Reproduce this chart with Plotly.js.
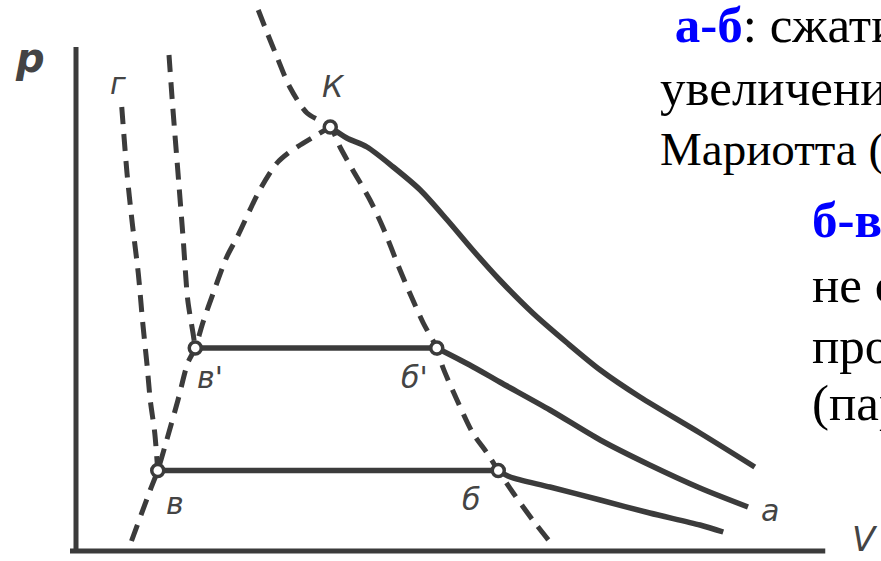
<!DOCTYPE html>
<html>
<head>
<meta charset="utf-8">
<script src="https://cdn.plot.ly/plotly-3.0.1.min.js"></script>
<style>
  html, body { margin: 0; padding: 0; background: #ffffff; }
  #chart { width: 881px; height: 561px; }
  /* the printed diagram is a soft scan */
  #chart .scatterlayer { filter: blur(0.6px); }
</style>
</head>
<body>
<div id="chart"></div>
<script>
// Real-gas isotherms in p–V coordinates (arbitrary units)

// critical isotherm, starting at the critical point К
const critV = [33.9, 36.1, 38.8, 42.3, 45.9, 49.5, 52.9, 56.5, 60.9, 65.5, 69.9, 75.2, 83.2, 90.5];
const critP = [84.8, 82.6, 80.8, 76.8, 72.2, 66.2, 60.2, 54.2, 47.6, 41.6, 36.2, 30.8, 23.6, 16.8];

// upper subcritical isotherm, gas branch from б'
const midV = [48.1, 52.5, 56.5, 63.2, 69.9, 76.5, 83.2, 89.6];
const midP = [40.6, 37.2, 33.8, 28.2, 22.2, 17.2, 12.6, 8.8];

// lower isotherm а–б, gas branch from б
const lowV = [56.3, 57.9, 63.2, 69.9, 76.5, 83.2, 86.3];
const lowP = [16.1, 14.8, 12.8, 10.2, 7.6, 5.2, 3.8];

// liquid boundary of the two-phase dome, up to К
const domeLeftV = [7.4, 9.9, 10.9, 12.1, 13.6, 14.9, 15.9, 16.9, 18.3, 20.1, 21.5, 24.5, 26.8, 28.3, 29.9, 32.1, 33.9];
const domeLeftP = [2.0, 12.2, 16.1, 22.2, 30.2, 37.6, 40.6, 45.6, 51.6, 58.8, 62.8, 72.2, 77.6, 79.6, 81.2, 83.2, 84.8];

// vapour boundary passing through К
const domeRightV = [24.3, 25.5, 26.8, 28.5, 30.8, 33.9, 35.2, 36.9, 39.2, 40.9, 43.2, 44.5, 46.3, 48.1, 48.9, 50.8, 52.9, 54.8, 56.3, 58.3, 60.9, 63.2];
const domeRightP = [108.2, 103.6, 98.8, 92.8, 87.6, 84.8, 80.8, 76.2, 70.2, 64.8, 56.2, 51.6, 45.6, 40.6, 36.8, 30.2, 23.6, 19.6, 16.1, 11.6, 6.2, 1.8];

// steep liquid branches: г–в and the one ending at в'
const liqLowV = [6.1, 6.8, 7.5, 8.3, 8.9, 9.5, 9.9, 10.5, 10.9];
const liqLowP = [88.8, 75.6, 65.6, 55.6, 45.6, 36.8, 30.2, 23.6, 16.1];
const liqMidV = [12.4, 12.9, 13.6, 14.3, 14.9, 15.6, 15.9];
const liqMidP = [99.2, 88.8, 75.6, 62.2, 50.2, 43.6, 40.6];

// marked states
const pointNames = ["К", "в'", "б'", "в", "б"];
const pointV = [33.9, 15.9, 48.1, 10.9, 56.3];
const pointP = [84.8, 40.6, 40.6, 16.1, 16.1];

// curve letters
const curveLabels = ["г", "а"];
const curveLabelV = [5.6, 92.5];
const curveLabelP = [93.6, 8.2];

// axis names
const axisNames = ["р", "V"];

const ink = "#3b3b3b";
const dashed = { color: ink, width: 5, dash: "17px,10px", shape: "spline", smoothing: 0.8 };
const solid = { color: ink, width: 5.5, shape: "spline", smoothing: 0.8 };

const traces = [
  { x: domeLeftV, y: domeLeftP, mode: "lines", line: dashed },
  { x: domeRightV, y: domeRightP, mode: "lines", line: dashed },
  { x: liqLowV, y: liqLowP, mode: "lines", line: dashed },
  { x: liqMidV, y: liqMidP, mode: "lines", line: dashed },
  { x: critV, y: critP, mode: "lines", line: solid },
  { x: midV, y: midP, mode: "lines", line: solid },
  { x: lowV, y: lowP, mode: "lines", line: solid },
  // condensation plateaus в'–б' and в–б
  { x: [pointV[1], pointV[2]], y: [pointP[1], pointP[2]], mode: "lines", line: { color: ink, width: 5.5 } },
  { x: [pointV[3], pointV[4]], y: [pointP[3], pointP[4]], mode: "lines", line: { color: ink, width: 5.5 } },
  {
    x: pointV, y: pointP, mode: "markers",
    marker: { size: 12, color: "#ffffff", line: { color: ink, width: 3.5 } }
  }
].map(t => Object.assign({ type: "scatter", hoverinfo: "skip", showlegend: false }, t));

const labelFont = { family: "DejaVu Sans", size: 30, color: "#444444" };
const italic = s => "<i>" + s + "</i>";

// offsets (in px) of the point letters from their markers
const pointLabelShift = [[3, -41], [15, 29], [-22, 29], [17, 33], [-27, 29]];

const annotations = [];
pointNames.forEach((n, i) => {
  annotations.push({
    x: pointV[i], y: pointP[i], xref: "x", yref: "y", text: italic(n),
    showarrow: true, arrowcolor: "rgba(0,0,0,0)", ax: pointLabelShift[i][0], ay: pointLabelShift[i][1],
    font: labelFont
  });
});
curveLabels.forEach((n, i) => {
  annotations.push({ x: curveLabelV[i], y: curveLabelP[i], xref: "x", yref: "y", text: italic(n), showarrow: false, font: labelFont });
});
annotations.push({ x: -6.2, y: 98.6, xref: "x", yref: "y", text: "<b><i>" + axisNames[0] + "</i></b>", showarrow: false, font: Object.assign({}, labelFont, { size: 40 }) });
annotations.push({ x: 105.2, y: 2.4, xref: "x", yref: "y", text: italic(axisNames[1]), showarrow: false, font: Object.assign({}, labelFont, { size: 34 }) });

// explanatory text beside the diagram
const noteLines = [
  { text: " <span style='color:#0000ff'><b>а-б</b></span>: сжатие", left: 660, base: 42, size: 51 },
  { text: "увеличение", left: 658, base: 105, size: 51 },
  { text: "Мариотта (", left: 658, base: 165, size: 47 },
  { text: "<span style='color:#0000ff'><b>б-в</b></span>", left: 810, base: 237, size: 51 },
  { text: "не сж", left: 810, base: 302, size: 51 },
  { text: "проц", left: 810, base: 363, size: 51 },
  { text: "(пар", left: 810, base: 420, size: 51 }
];
const W = 881, H = 561;
noteLines.forEach(l => {
  annotations.push({
    xref: "paper", yref: "paper", x: l.left / W, y: 1 - (l.base - 0.3375 * l.size) / H,
    xanchor: "left", yanchor: "middle", showarrow: false, align: "left",
    text: l.text, font: { family: "Liberation Serif, 'Times New Roman', serif", size: l.size, color: "#000000" }
  });
});

const layout = {
  width: W, height: H,
  margin: { l: 0, r: 0, t: 0, b: 0 },
  paper_bgcolor: "#ffffff", plot_bgcolor: "#ffffff",
  xaxis: { range: [-10.133, 107.333], visible: false, fixedrange: true },
  yaxis: { range: [-2, 110.2], visible: false, fixedrange: true },
  shapes: [
    { type: "line", xref: "x", yref: "y", x0: 0, x1: 0, y0: 0, y1: 100.8, line: { color: ink, width: 5 } },
    { type: "line", xref: "x", yref: "y", x0: -0.8, x1: 99.9, y0: 0, y1: 0, line: { color: ink, width: 5 } }
  ],
  annotations: annotations
};

Plotly.newPlot("chart", traces, layout, { staticPlot: true, displayModeBar: false });
</script>
</body>
</html>
